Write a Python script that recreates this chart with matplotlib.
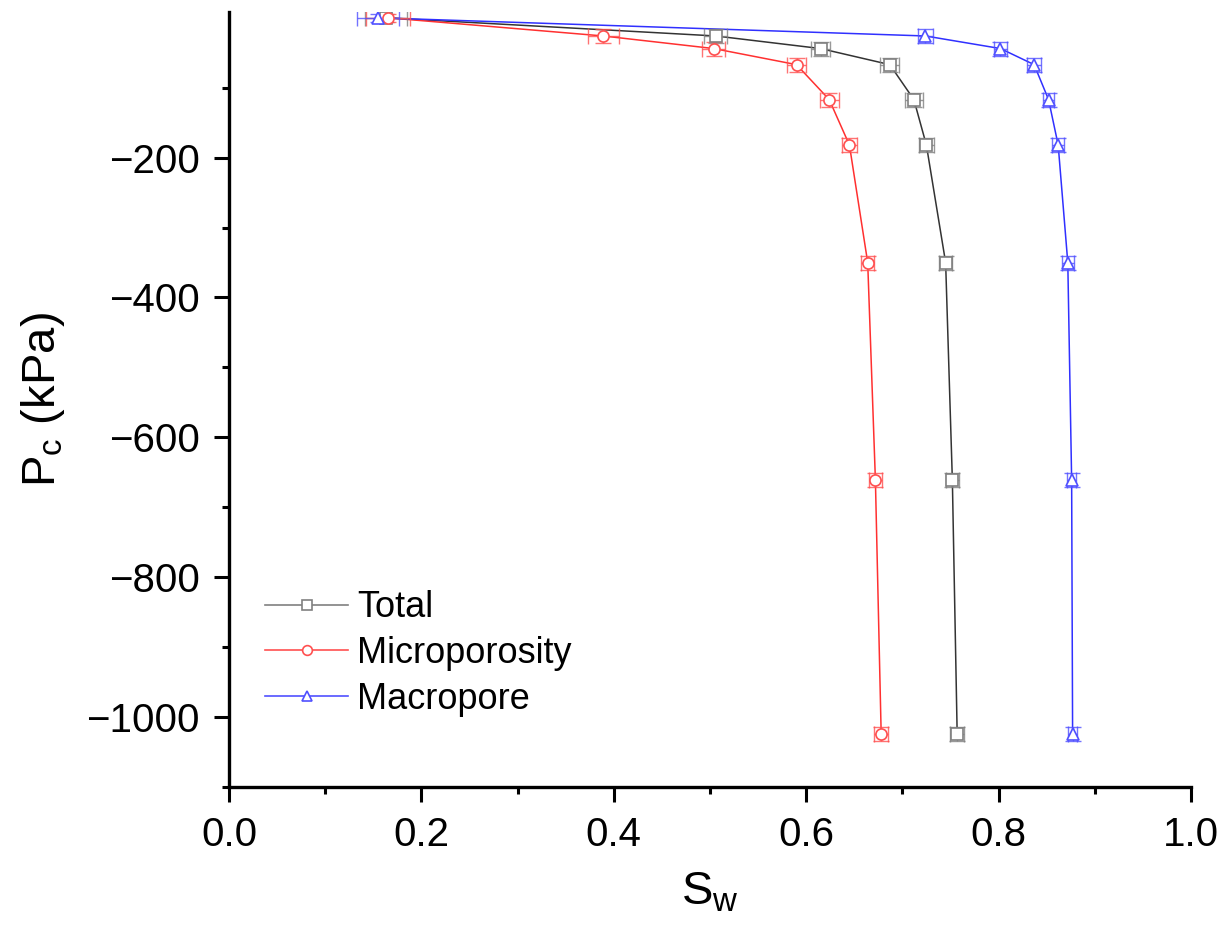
import numpy as np
import matplotlib.pyplot as plt
from matplotlib.lines import Line2D

plt.rcParams['font.family'] = ['Liberation Sans', 'DejaVu Sans']
plt.rcParams['mathtext.fontset'] = 'custom'
plt.rcParams['mathtext.rm'] = 'Liberation Sans'
plt.rcParams['mathtext.it'] = 'Liberation Sans'

# capillary pressure steps (kPa)
pc = [0, -26, -44, -67, -117, -182, -350, -661, -1024]
pc_err = [6, 10, 10, 10, 10, 10, 10, 10, 10]

# water saturation for each series
sw_total = [0.163, 0.506, 0.615, 0.687, 0.712, 0.725, 0.745, 0.752, 0.757]
sw_micro = [0.165, 0.389, 0.504, 0.590, 0.624, 0.645, 0.664, 0.672, 0.678]
sw_macro = [0.155, 0.724, 0.802, 0.837, 0.852, 0.862, 0.872, 0.876, 0.877]

err_total = [0.022, 0.012, 0.010, 0.010, 0.009, 0.008, 0.007, 0.007, 0.007]
err_micro = [0.023, 0.016, 0.012, 0.010, 0.010, 0.008, 0.007, 0.007, 0.007]
err_macro = [0.022, 0.008, 0.007, 0.007, 0.006, 0.006, 0.006, 0.005, 0.005]

labels = ['Total', 'Microporosity', 'Macropore']

fig = plt.figure(figsize=(12.27, 9.38), dpi=100)
ax = fig.add_axes([0.1866, 0.161, 0.784, 0.826])

series = [
    (sw_total, err_total, 's', '#808080', '#333333'),
    (sw_micro, err_micro, 'o', '#ff5050', '#ff3030'),
    (sw_macro, err_macro, '^', '#5050ff', '#3030ff'),
]

handles = []
for (sw, err, mk, mc, lc), lab in zip(series, labels):
    ax.plot(sw, pc, color=lc, lw=1.1, zorder=2)
    ax.errorbar(sw, pc, xerr=err, yerr=pc_err, fmt='none', ecolor=mc,
                elinewidth=1.0, capsize=5.5, capthick=1.0, alpha=0.8, zorder=3)
    ax.plot(sw, pc, ls='none', marker=mk, ms=8, mfc='white', mec=mc,
            mew=1.2, zorder=4)
    handles.append(Line2D([], [], color=mc, lw=1.2, marker=mk, ms=7,
                          mfc='white', mec=mc, mew=1.2))

ax.set_xlim(0, 1.0)
ax.set_ylim(-1100, 8)
ax.set_xticks(np.arange(0, 1.01, 0.2))
ax.set_xticks(np.arange(0.1, 1.0, 0.2), minor=True)
ax.set_yticks(np.arange(-1000, -199, 200))
ax.set_yticks(np.arange(-1100, 0, 200), minor=True)
ax.xaxis.set_major_formatter(plt.FuncFormatter(lambda v, p: f'{v:.1f}'))
ax.yaxis.set_major_formatter(plt.FuncFormatter(lambda v, p: f'\u2212{abs(int(v))}'))

for s in ['top', 'right']:
    ax.spines[s].set_visible(False)
for s in ['left', 'bottom']:
    ax.spines[s].set_linewidth(2.4)

ax.tick_params(which='major', direction='out', length=11, width=2.2,
               labelsize=29, pad=10)
ax.tick_params(which='minor', direction='out', length=5, width=2.2)

ax.set_xlabel(r'S$_\mathrm{w}$', fontsize=34, labelpad=12)
ax.set_ylabel(r'P$_\mathrm{c}$ (kPa)', fontsize=34, labelpad=14)

ax.legend(handles, labels, loc='upper left', bbox_to_anchor=(0.004, 0.296),
          frameon=False, fontsize=26, handlelength=2.3, handletextpad=0.25,
          labelspacing=0.3)

fig.savefig('out.png', dpi=100)
